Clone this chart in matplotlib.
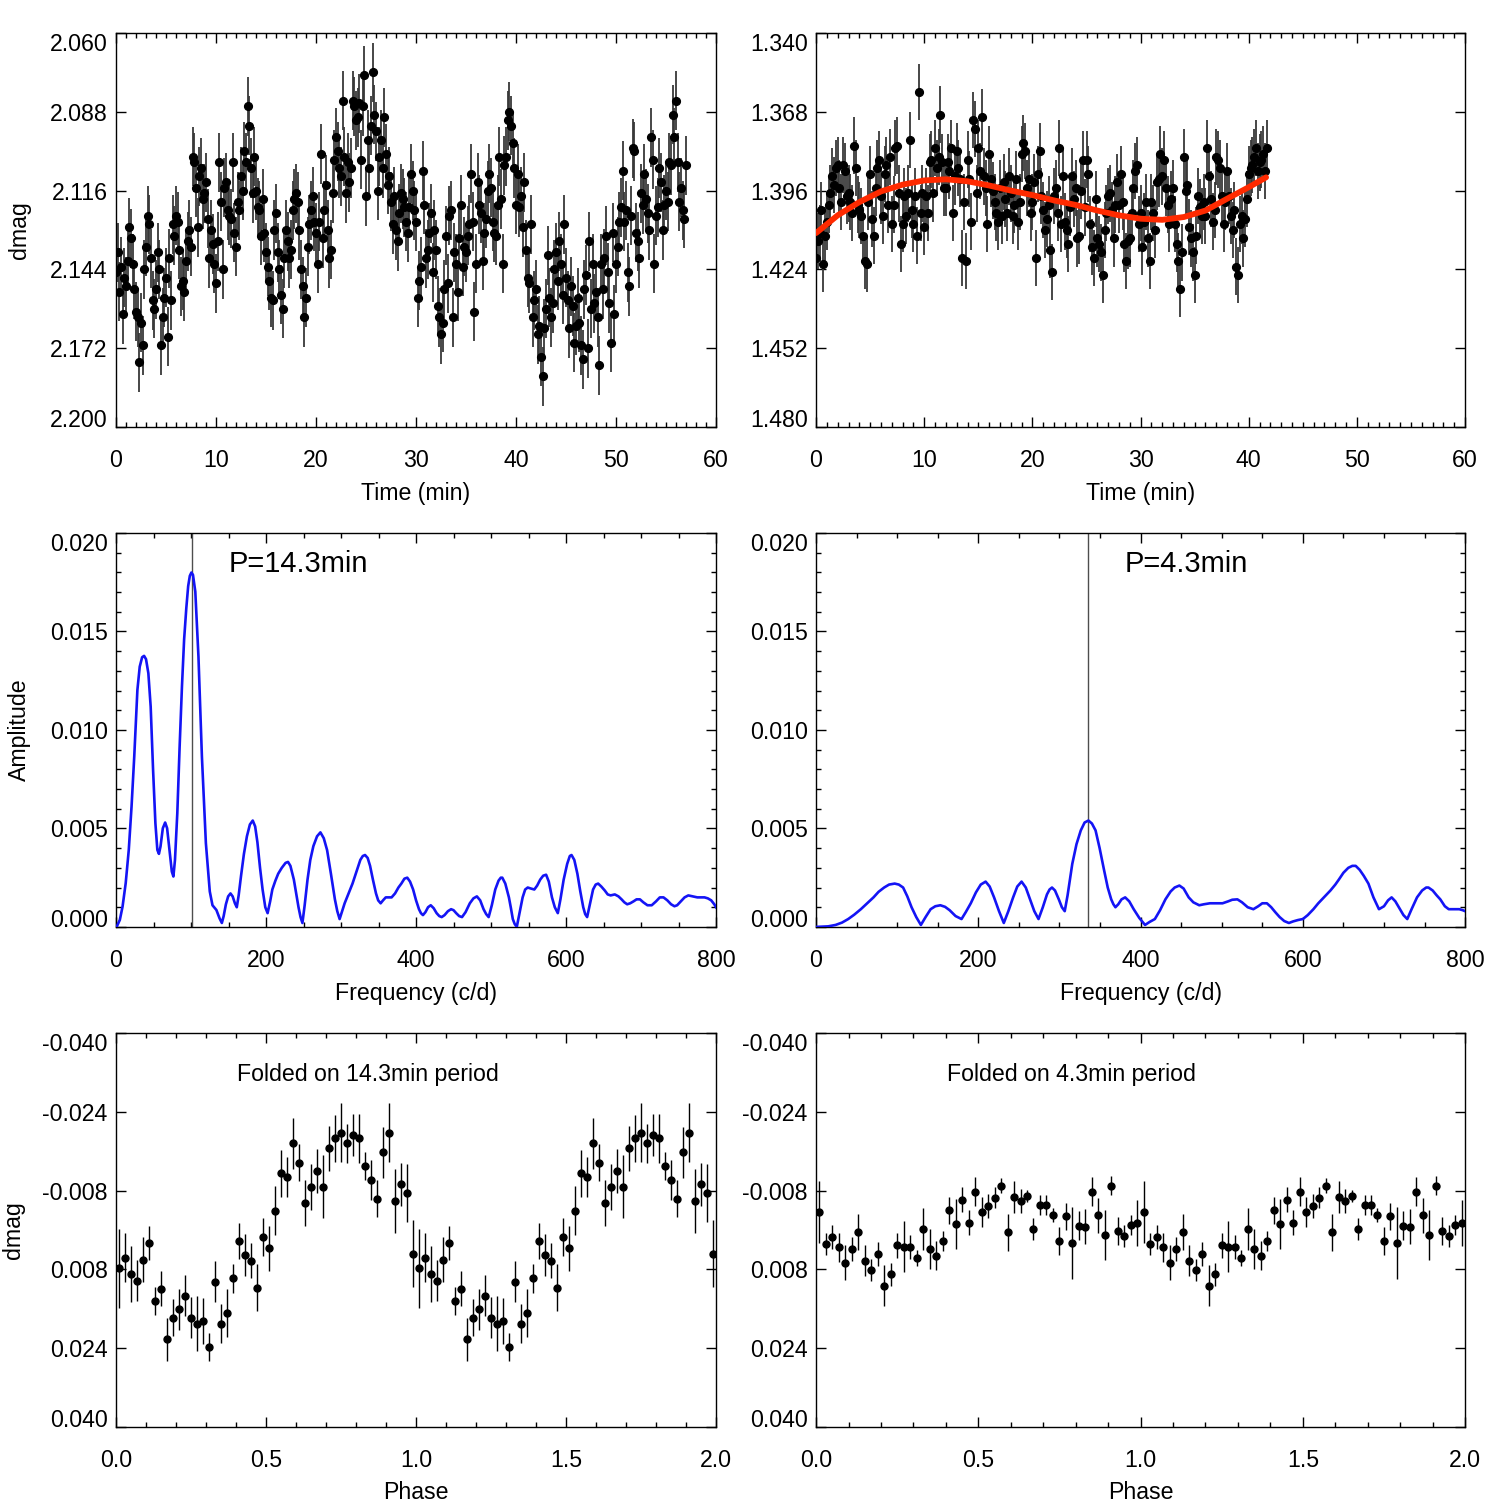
import numpy as np
import matplotlib
matplotlib.use("Agg")
import matplotlib.pyplot as plt
from matplotlib.ticker import MultipleLocator, FormatStrFormatter, FixedLocator

plt.rcParams['font.family'] = ['Liberation Sans', 'DejaVu Sans']
plt.rcParams['axes.unicode_minus'] = False

FS = 16.7

# ---- light curve 1: (dmag - 2.000) in mmag, one point every 10 s, one row = 1 min
lc1_cadence = 1.0 / 6.0
lc1_mmag = [
    145, 138, 152, 143, 160, 147,
    150, 141, 129, 133, 142, 151,
    159, 161, 177, 163, 171, 144,
    136, 125, 128, 140, 155, 158,
    151, 138, 144, 171, 161, 154,
    147, 168, 140, 155, 128, 132,
    125, 127, 137, 150, 148, 152,
    141, 134, 130, 136, 104, 106,
    115, 129, 111, 108, 119, 117,
    113, 126, 140, 130, 135, 142,
    149, 134, 106, 120, 144, 115,
    113, 123, 125, 126, 106, 131,
    136, 120, 123, 111, 116, 102,
    106, 86, 93, 108, 117, 104,
    116, 122, 123, 132, 119, 131,
    138, 143, 148, 154, 155, 130,
    124, 138, 144, 153, 158, 140,
    130, 134, 140, 137, 123, 119,
    117, 120, 130, 144, 150, 161,
    154, 136, 128, 123, 118, 127,
    131, 142, 127, 103, 133, 123,
    114, 130, 140, 137, 117, 105,
    97, 102, 108, 111, 84, 104,
    117, 106, 113, 108, 84, 86,
    91, 90, 85, 105, 86, 75,
    118, 98, 108, 93, 74, 89,
    95, 116, 104, 98, 108, 90,
    103, 114, 111, 120, 128, 118,
    130, 134, 124, 117, 119, 122,
    127, 131, 122, 110, 116, 123,
    127, 154, 148, 143, 109, 121,
    140, 137, 131, 124, 145, 130,
    137, 157, 161, 167, 163, 151,
    132, 149, 125, 123, 161, 138,
    142, 152, 133, 121, 143, 136,
    138, 132, 128, 110, 127, 159,
    142, 113, 121, 124, 141, 131,
    126, 116, 110, 115, 127, 131,
    132, 121, 104, 119, 142, 107,
    104, 91, 88, 93, 99, 108,
    121, 110, 122, 118, 129, 113,
    137, 147, 149, 128, 161, 155,
    151, 167, 164, 175, 182, 165,
    158, 139, 154, 161, 156, 144,
    138, 148, 134, 142, 153, 128,
    147, 155, 165, 150, 157, 170,
    164, 154, 163, 171, 176, 151,
    146, 172, 134, 158, 142, 156,
    152, 161, 178, 142, 151, 140,
    132, 145, 156, 170, 131, 160,
    142, 136, 127, 122, 109, 127,
    123, 145, 150, 125, 101, 102,
    131, 134, 140, 117, 121, 110,
    119, 124, 130, 97, 105, 142,
    125, 122, 108, 113, 130, 121,
    116, 120, 106, 107, 89, 97,
    84, 106, 120, 115, 123, 126,
    107,
]
lc1_err = 0.0105

# ---- light curve 2: (dmag - 1.300) in mmag
lc2_cadence = 1.0 / 6.0
lc2_mmag = [
    120, 114, 111, 103, 122, 112,
    107, 101, 97, 91, 94, 88,
    87, 95, 100, 87, 89, 98,
    97, 100, 104, 80, 88, 101,
    103, 105, 112, 121, 122, 100,
    90, 106, 112, 95, 88, 85,
    98, 105, 90, 87, 101, 84,
    108, 101, 81, 80, 97, 115,
    108, 98, 105, 97, 78, 103,
    108, 98, 112, 61, 104, 97,
    109, 98, 104, 86, 85, 97,
    81, 88, 84, 69, 86, 95,
    95, 86, 89, 81, 104, 91,
    82, 88, 92, 120, 100, 121,
    85, 92, 107, 71, 74, 97,
    81, 89, 70, 91, 95, 108,
    83, 92, 96, 100, 104, 107,
    95, 105, 93, 99, 104, 91,
    97, 105, 101, 92, 107, 100,
    83, 79, 82, 95, 92, 104,
    100, 93, 120, 90, 82, 98,
    103, 110, 106, 101, 117, 125,
    98, 95, 104, 81, 108, 91,
    107, 110, 115, 102, 91, 99,
    95, 113, 112, 96, 85, 102,
    85, 90, 108, 116, 120, 99,
    113, 115, 118, 126, 110, 104,
    98, 97, 103, 113, 101, 93,
    101, 90, 100, 115, 121, 114,
    113, 104, 95, 89, 87, 108,
    104, 116, 107, 100, 113, 121,
    100, 104, 110, 93, 92, 83,
    91, 85, 95, 101, 108, 99,
    95, 108, 115, 121, 131, 118,
    84, 96, 94, 109, 113, 118,
    126, 112, 98, 102, 105, 100,
    105, 81, 91, 99, 107, 103,
    84, 85, 88, 98, 108, 100,
    89, 98, 105, 110, 103, 123,
    126, 108, 105, 113, 106, 99,
    90, 88, 87, 84, 81, 89,
    86, 85, 83, 89, 81,
]
lc2_err = 0.0100

# trend fitted to light curve 2
fit_t = [0, 2, 4, 6, 8, 10, 12, 14, 16, 18, 20, 22, 24, 26, 28, 30, 32, 34, 36, 38, 40, 41.6]
fit_mmag = [111.1, 104.8, 100.1, 96.3, 93.9, 92.4, 92.0, 92.7, 94.2, 96.0, 97.6,
            99.5, 101.1, 103.1, 104.8, 106.0, 106.4, 105.4, 103.1, 98.9, 94.8, 91.3]

# ---- amplitude spectra: (frequency c/d, amplitude mmag)
ft1 = [
    (0, 0), (1.4, 0.05), (5.1, 0.36), (8.7, 1.03), (12.9, 2.22), (17.0, 3.91), (20.7, 6.11),
    (24.3, 8.65), (28.5, 12.03), (31.6, 13.21), (34.8, 13.69), (37.4, 13.76), (40.0, 13.59),
    (43.1, 12.88), (46.2, 11.18), (49.4, 7.97), (52.5, 5.26), (55.1, 3.91), (57.2, 3.71),
    (59.3, 4.08), (62.4, 5.01), (65.5, 5.30), (68.1, 5.01), (71.3, 3.91), (74.4, 2.81),
    (76.5, 2.56), (78.6, 3.40), (81.7, 5.77), (84.8, 9.15), (87.9, 12.2), (90.8, 14.6),
    (93.7, 16.18), (96.2, 17.3), (98.4, 17.82), (100.5, 17.99), (102.6, 17.87), (105.7, 17.02),
    (109.9, 13.72), (114.5, 8.65), (119.8, 4.25), (125.0, 1.80), (128.6, 1.10), (133.8, 0.86),
    (138.0, 0.44), (141.1, 0.20), (143.5, 0.55), (146.5, 1.15), (149.5, 1.55), (152.6, 1.70),
    (155.5, 1.55), (158.5, 1.20), (161.0, 1.00), (163.5, 1.60), (166.7, 2.60), (170.5, 3.70),
    (174.5, 4.60), (178.5, 5.20), (182.3, 5.40), (185.5, 5.10), (188.5, 4.30), (192.0, 3.00),
    (195.4, 1.90), (199.0, 1.00), (202.1, 0.70), (205.5, 1.30), (208.4, 1.90), (212.5, 2.35),
    (216.2, 2.70), (221.0, 3.00), (226.0, 3.25), (229.3, 3.30), (232.5, 3.10), (237.1, 2.40),
    (243.3, 1.00), (246.0, 0.50), (248.5, 0.20), (251.5, 1.10), (255.3, 2.40), (259.0, 3.40),
    (263.1, 4.10), (268.0, 4.60), (272.5, 4.80), (277.0, 4.50), (281.4, 3.90), (286.5, 2.70),
    (291.8, 1.40), (295.0, 0.80), (298.1, 0.40), (301.5, 0.80), (304.8, 1.20), (310.0, 1.70),
    (315.3, 2.20), (320.5, 2.80), (325.7, 3.40), (329.0, 3.60), (332.0, 3.65), (335.5, 3.50),
    (338.7, 3.10), (342.5, 2.40), (346.6, 1.70), (349.5, 1.35), (352.8, 1.20), (356.0, 1.35),
    (359.6, 1.50), (363.5, 1.50), (367.4, 1.50), (372.0, 1.70), (376.5, 2.00), (380.4, 2.20),
    (384.5, 2.45), (388.3, 2.50), (392.0, 2.30), (396.1, 1.90), (400.0, 1.35), (403.9, 0.90),
    (406.5, 0.70), (409.2, 0.60), (412.5, 0.75), (416.0, 1.00), (419.6, 1.10), (423.5, 0.95),
    (427.4, 0.70), (431.0, 0.55), (434.2, 0.50), (438.0, 0.60), (442.5, 0.80), (446.7, 0.90),
    (450.0, 0.85), (453.5, 0.70), (457.5, 0.55), (461.3, 0.50), (466.0, 0.75), (471.7, 1.20),
    (476.5, 1.45), (481.1, 1.55), (485.5, 1.35), (490.0, 0.90), (493.5, 0.65), (496.8, 0.50),
    (501.0, 1.10), (505.6, 1.90), (510.0, 2.35), (513.0, 2.50), (515.0, 2.50), (519.0, 2.20),
    (523.8, 1.50), (526.5, 0.95), (529.0, 0.40), (531.5, 0.15), (534.3, 0.0), (538.0, 0.70),
    (542.1, 1.50), (545.5, 1.90), (548.9, 2.00), (553.0, 1.95), (557.7, 1.90), (561.5, 2.10),
    (565.5, 2.40), (569.5, 2.60), (573.4, 2.65), (577.0, 2.30), (581.2, 1.50), (585.0, 1.00),
    (589.0, 0.70), (592.5, 1.40), (596.8, 2.40), (601.5, 3.20), (605.0, 3.60), (607.3, 3.65),
    (611.0, 3.40), (615.1, 2.70), (619.0, 1.80), (622.9, 1.00), (625.5, 0.65), (628.1, 0.50),
    (632.0, 1.20), (636.0, 1.90), (639.5, 2.15), (642.8, 2.20), (647.0, 2.05), (651.6, 1.85),
    (655.5, 1.65), (659.4, 1.60), (665.0, 1.65), (669.9, 1.55), (674.0, 1.40), (677.7, 1.25),
    (681.5, 1.15), (685.5, 1.20), (690.0, 1.30), (694.0, 1.40), (698.5, 1.40), (703.0, 1.25),
    (708.5, 1.10), (714.2, 1.10), (720.0, 1.30), (725.0, 1.50), (729.9, 1.50), (735.0, 1.35),
    (740.0, 1.15), (744.5, 1.05), (748.1, 1.10), (753.0, 1.30), (758.0, 1.50), (763.0, 1.60),
    (769.0, 1.55), (775.0, 1.50), (780.0, 1.50), (784.6, 1.50), (789.0, 1.45), (793.5, 1.35),
    (797.6, 1.15), (800.0, 1.00),
]
ft1_peak = 100.7

ft2 = [
    (0, 0), (15, 0.03), (24, 0.1), (32, 0.22), (39.6, 0.4), (47, 0.62), (55.2, 0.9), (63, 1.2),
    (70.8, 1.5), (77, 1.78), (83.9, 2.0), (90, 2.15), (96.9, 2.2), (102, 2.15), (107.3, 2.0),
    (112.5, 1.55), (117.7, 1.0), (123.5, 0.5), (129.2, 0.1), (135, 0.5), (141.2, 0.9),
    (147, 1.05), (153.2, 1.1), (159, 1.02), (164.6, 0.85), (172, 0.55), (179.3, 0.4),
    (184.5, 0.75), (190.7, 1.2), (197, 1.75), (203, 2.15), (209, 2.3), (214, 2.05),
    (219.4, 1.5), (225.5, 0.8), (231.4, 0.2), (237, 0.8), (242.9, 1.5), (248, 2.05),
    (253.3, 2.3), (258.5, 2.0), (263.7, 1.4), (269, 0.8), (274.2, 0.4), (279.5, 1.0),
    (284.6, 1.65), (287.8, 1.9), (290.8, 2.0), (294.5, 1.85), (299.2, 1.4), (303, 1.0),
    (306.5, 0.8), (310, 1.6), (315.8, 3.2), (321, 4.2), (326.3, 4.9), (331, 5.3), (335.7, 5.4),
    (340, 5.25), (344.5, 4.9), (349.5, 4.0), (354.9, 2.9), (359.5, 2.0), (363.8, 1.4),
    (366.5, 1.15), (369.0, 1.0), (372.5, 1.15), (376.5, 1.4), (381.0, 1.5), (386, 1.3),
    (391.5, 0.9), (398.5, 0.45), (405.5, 0.1), (411, 0.25), (417.6, 0.4), (424, 0.85),
    (430.6, 1.4), (437, 1.8), (442, 2.0), (447.8, 2.1), (453, 1.95), (459.3, 1.5), (465, 1.25),
    (472.3, 1.1), (478, 1.15), (485.4, 1.2), (493, 1.2), (501.0, 1.2), (508, 1.3), (513, 1.38),
    (519.3, 1.4), (525, 1.25), (532, 1.0), (539.0, 0.9), (545, 1.05), (550, 1.2), (555.7, 1.2),
    (561, 1.0), (566, 0.75), (571.4, 0.5), (577, 0.3), (582.8, 0.2), (588, 0.28), (594, 0.35),
    (600.0, 0.4), (606, 0.6), (613.0, 0.9), (619, 1.2), (626.0, 1.5), (634, 1.85), (640, 2.15),
    (644.3, 2.4), (650, 2.75), (656, 3.0), (661, 3.1), (665.1, 3.1), (670, 2.9), (675, 2.6),
    (680.8, 2.2), (687, 1.5), (693.8, 0.9), (700, 1.05), (705, 1.35), (709.4, 1.5), (714, 1.3),
    (719.8, 0.9), (724, 0.6), (728.7, 0.4), (734, 0.9), (740.7, 1.5), (747, 1.85), (752, 2.0),
    (754.8, 2.0), (760, 1.85), (765, 1.6), (769.4, 1.4), (775, 1.05), (779.8, 0.9), (786, 0.9),
    (792.8, 0.9), (797, 0.85), (800, 0.8),
]
ft2_peak = 335.0

# ---- folded light curves, 50 phase bins (dmag, error)
fold_nbins = 50
fold1_dmag = [0.0078, 0.0056, 0.0090, 0.0103, 0.0060, 0.0026, 0.0144, 0.0119, 0.0222, 0.0178,
              0.0161, 0.0133, 0.0178, 0.0190, 0.0185, 0.0237, 0.0105, 0.0190, 0.0168, 0.0098,
              0.0022, 0.0051, 0.0062, 0.0117, 0.0014, 0.0037, -0.0039, -0.0115, -0.0108, -0.0176,
              -0.0137, -0.0055, -0.0088, -0.0120, -0.0088, -0.0166, -0.0186, -0.0198, -0.0176, -0.0193,
              -0.0186, -0.0130, -0.0101, -0.0064, -0.0158, -0.0198, -0.0059, -0.0093, -0.0076, 0.0048]
fold1_err = [0.0081, 0.0049, 0.0057, 0.0042, 0.0046, 0.0034, 0.0029, 0.0036, 0.0043, 0.0037,
             0.0041, 0.0041, 0.0042, 0.0056, 0.0047, 0.0028, 0.0042, 0.0039, 0.0049, 0.0030,
             0.0037, 0.0042, 0.0036, 0.0048, 0.0039, 0.0046, 0.0050, 0.0048, 0.0040, 0.0052,
             0.0037, 0.0047, 0.0047, 0.0045, 0.0064, 0.0046, 0.0047, 0.0059, 0.0039, 0.0042,
             0.0049, 0.0029, 0.0041, 0.0037, 0.0052, 0.0059, 0.0065, 0.0044, 0.0059, 0.0068]

fold2_dmag = [-0.0036, 0.0028, 0.0014, 0.0035, 0.0066, 0.0038, 0.0004, 0.0062, 0.0081, 0.0049,
              0.0113, 0.0090, 0.0031, 0.0034, 0.0034, 0.0057, -0.0002, 0.0038, 0.0052, 0.0022,
              -0.0040, -0.0013, -0.0062, -0.0015, -0.0078, -0.0037, -0.0049, -0.0066, -0.0090, 0.0005,
              -0.0067, -0.0059, -0.0069, -0.0002, -0.0051, -0.0051, -0.0030, 0.0022, -0.0028, 0.0026,
              -0.0009, -0.0007, -0.0078, -0.0030, 0.0010, -0.0090, 0.0002, 0.0012, -0.0010, -0.0015]
fold2_err = [0.0063, 0.0022, 0.0024, 0.0029, 0.0035, 0.0024, 0.0037, 0.0031, 0.0022, 0.0024,
             0.0042, 0.0024, 0.0025, 0.0052, 0.0024, 0.0016, 0.0042, 0.0041, 0.0029, 0.0021,
             0.0027, 0.0051, 0.0025, 0.0025, 0.0030, 0.0031, 0.0024, 0.0022, 0.0015, 0.0037,
             0.0032, 0.0025, 0.0012, 0.0023, 0.0020, 0.0020, 0.0014, 0.0029, 0.0027, 0.0073,
             0.0029, 0.0036, 0.0030, 0.0036, 0.0051, 0.0019, 0.0029, 0.0023, 0.0020, 0.0047]


def style_axes(ax, xmaj, xmin, xfmt, yticks, ymin=None, yfmt='%.3f'):
    for s in ax.spines.values():
        s.set_linewidth(1.0)
    ax.xaxis.set_major_locator(MultipleLocator(xmaj))
    ax.xaxis.set_minor_locator(MultipleLocator(xmin))
    ax.xaxis.set_major_formatter(FormatStrFormatter(xfmt))
    ax.yaxis.set_major_locator(FixedLocator(yticks))
    if ymin is not None:
        ax.yaxis.set_minor_locator(MultipleLocator(ymin))
    ax.yaxis.set_major_formatter(FormatStrFormatter(yfmt))
    ax.tick_params(which='both', direction='in', top=True, right=True, width=1.0)
    ax.tick_params(which='major', length=7.5)
    ax.tick_params(which='minor', length=3.5)
    ax.tick_params(axis='x', which='major', pad=16, labelsize=FS)
    ax.tick_params(axis='y', which='major', pad=6, labelsize=FS)
    # IDL-like: end labels pulled inside the axis range
    ticks = ax.yaxis.get_major_ticks(len(yticks))
    top_first = ax.yaxis_inverted()
    ticks[0].label1.set_va('top' if top_first else 'baseline')
    ticks[-1].label1.set_va('baseline' if top_first else 'top')


fig = plt.figure(figsize=(14.99, 15.05), dpi=100)
col_x = [0.0774, 0.5444]
col_w = [0.4003, 0.4330]
row_y = [0.7163, 0.3841, 0.0518]
row_h = 0.2618

axes = [[fig.add_axes([col_x[c], row_y[r], col_w[c], row_h]) for c in range(2)] for r in range(3)]

# row 1: light curves
lc_sets = [(lc1_mmag, lc1_cadence, lc1_err, 2.000, (2.200, 2.060)),
           (lc2_mmag, lc2_cadence, lc2_err, 1.300, (1.480, 1.340))]
for c, (mm, cad, err, off, ylim) in enumerate(lc_sets):
    ax = axes[0][c]
    t = np.arange(len(mm)) * cad
    y = off + np.array(mm) / 1000.0
    ax.errorbar(t, y, yerr=err, fmt='none', ecolor='0.22', elinewidth=1.3, capsize=0, zorder=2)
    ax.plot(t, y, 'o', color='k', ms=5.6, mec='k', zorder=3)
    ax.set_xlim(0, 60)
    ax.set_ylim(*ylim)
    yt = np.round(np.linspace(ylim[1], ylim[0], 6), 3)
    style_axes(ax, 10, 1, '%d', yt)
    ax.set_xlabel('Time (min)', fontsize=FS, labelpad=7)

axes[0][1].plot(fit_t, 1.300 + np.array(fit_mmag) / 1000.0, color='#ff2a00', lw=4.2,
                solid_capstyle='round', zorder=5)

# row 2: amplitude spectra
ft_sets = [(ft1, ft1_peak, 'P=14.3min', 150.7),
           (ft2, ft2_peak, 'P=4.3min', 380.9)]
for c, (spec, fp, lab, xt) in enumerate(ft_sets):
    ax = axes[1][c]
    f, a = zip(*spec)
    ax.plot(f, np.array(a) / 1000.0, color='#1414f5', lw=1.9, zorder=3,
            solid_joinstyle='round')
    ax.axvline(fp, color='0.3', lw=1.0, zorder=2)
    ax.set_xlim(0, 800)
    ax.set_ylim(0, 0.020)
    style_axes(ax, 200, 50, '%d', [0, 0.005, 0.010, 0.015, 0.020], ymin=0.001)
    ax.text(xt, 0.0184, lab, fontsize=21, ha='left', va='center')
    ax.set_xlabel('Frequency (c/d)', fontsize=FS, labelpad=7)

# row 3: folded light curves
phase = (np.arange(fold_nbins) + 0.5) / fold_nbins
fold_sets = [(fold1_dmag, fold1_err, 'Folded on 14.3min period'),
             (fold2_dmag, fold2_err, 'Folded on 4.3min period')]
for c, (d, e, lab) in enumerate(fold_sets):
    ax = axes[2][c]
    ph2 = np.concatenate([phase, phase + 1])
    ax.errorbar(ph2, np.tile(d, 2), yerr=np.tile(e, 2), fmt='o', color='k', ms=5,
                ecolor='k', elinewidth=1.0, capsize=0)
    ax.set_xlim(0, 2)
    ax.set_ylim(0.040, -0.040)
    style_axes(ax, 0.5, 0.1, '%.1f', [-0.040, -0.024, -0.008, 0.008, 0.024, 0.040])
    ax.text(0.402, -0.0315, lab, fontsize=FS, ha='left', va='center')
    ax.set_xlabel('Phase', fontsize=FS, labelpad=6)

axes[0][0].set_ylabel('dmag', fontsize=FS)
axes[0][0].yaxis.set_label_coords(-0.142, 0.5)
axes[1][0].set_ylabel('Amplitude', fontsize=FS)
axes[1][0].yaxis.set_label_coords(-0.142, 0.5)
axes[2][0].set_ylabel('dmag', fontsize=FS)
axes[2][0].yaxis.set_label_coords(-0.152, 0.5)

fig.savefig('out.png', dpi=100)
